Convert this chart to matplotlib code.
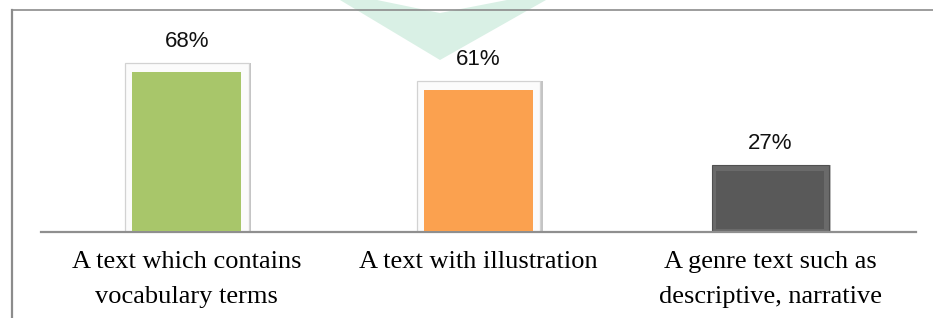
import numpy as np
import matplotlib
matplotlib.use('Agg')
import matplotlib.pyplot as plt
from matplotlib.patches import Polygon
from matplotlib.lines import Line2D

# data
categories = ['A text which contains\nvocabulary terms',
              'A text with illustration',
              'A genre text such as\ndescriptive, narrative']
values = [68, 61, 27]
labels = ['68%', '61%', '27%']
colors = ['#a8c66a', '#fba14f', '#595959']

W, H = 933, 318
fig = plt.figure(figsize=(W / 100, H / 100), dpi=100)

def fx(px):
    return px / W

def fy(py):
    return 1 - py / H

# watermark chevron behind the chart
chev = Polygon([(fx(340), fy(0)), (fx(440), fy(60)), (fx(546), fy(0)),
                (fx(507), fy(0)), (fx(440), fy(13)), (fx(377), fy(0))],
               closed=True, transform=fig.transFigure, facecolor='#d9f0e5',
               edgecolor='none', zorder=0)
fig.patches.append(chev)

# outer frame (left and top)
fig.add_artist(Line2D([fx(11.5), fx(11.5)], [fy(10), fy(318)], color='#8c8c8c', lw=1.6))
fig.add_artist(Line2D([fx(11.5), fx(933)], [fy(10), fy(10)], color='#8c8c8c', lw=1.2))

ax = fig.add_axes([fx(41), fy(232), fx(916) - fx(41), fy(10) - fy(232)])
ax.patch.set_visible(False)
x = np.arange(len(values))
ymax = 222 / 2.48
ax.set_ylim(0, ymax)
ax.set_xlim(-0.5, 2.5)

px = ymax / 222  # value units per pixel
for i, (v, c) in enumerate(zip(values, colors)):
    if i < 2:
        # white bevel frame + shadow
        ax.bar(x[i] + 0.006, v, width=0.428, color='#c4c4c4', zorder=1)
        ax.bar(x[i], v, width=0.425, color='#fbfbfb', edgecolor='#d2d2d2',
               lw=0.9, zorder=2)
        ax.bar(x[i], v - 10.5 * px, bottom=1.5 * px, width=0.374, color=c,
               zorder=3)
    else:
        ax.bar(x[i] + 0.006, v, width=0.405, color='#bdbdbd', zorder=1)
        ax.bar(x[i], v, width=0.40, color='#6a6a6a', edgecolor='#505050',
               lw=0.8, zorder=2)
        ax.bar(x[i], v - 9 * px, bottom=3 * px, width=0.37, color=c,
               zorder=3)
    ax.annotate(labels[i], (x[i], v), xytext=(0, 8), textcoords='offset points',
                ha='center', va='bottom', fontsize=16,
                family='Liberation Sans', color='#111111')

ax.set_xticks(x)
ax.set_xticklabels(categories, family='Liberation Serif', fontsize=19)
for lbl in ax.get_xticklabels():
    lbl.set_linespacing(1.75)
ax.tick_params(axis='x', length=0, pad=14)
ax.set_yticks([])
for s in ['top', 'right', 'left']:
    ax.spines[s].set_visible(False)
ax.spines['bottom'].set_color('#8f8f8f')
ax.spines['bottom'].set_linewidth(1.6)

fig.savefig('out.png', dpi=100)
